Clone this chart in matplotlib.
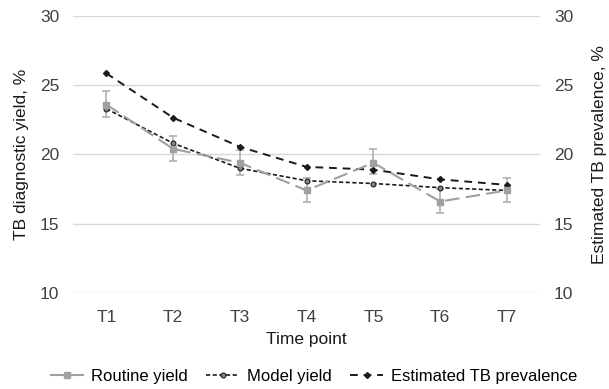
import numpy as np
import matplotlib.pyplot as plt
from matplotlib.lines import Line2D

plt.rcParams['font.family'] = ['Liberation Sans', 'DejaVu Sans']

# Datos
puntos = ['T1', 'T2', 'T3', 'T4', 'T5', 'T6', 'T7']
rutina = [23.6, 20.4, 19.4, 17.4, 19.4, 16.6, 17.4]
rutina_sup = [24.6, 21.3, 20.3, 18.3, 20.4, 17.5, 18.3]
rutina_inf = [22.7, 19.5, 18.5, 16.6, 18.6, 15.8, 16.6]
modelo = [23.3, 20.8, 19.0, 18.1, 17.9, 17.6, 17.4]
prevalencia = [25.85, 22.65, 20.55, 19.1, 18.9, 18.2, 17.8]

gris = '#a0a0a0'
negro = '#1a1a1a'

x = np.arange(len(puntos))
rutina = np.array(rutina)
err = [rutina - np.array(rutina_inf), np.array(rutina_sup) - rutina]

fig = plt.figure(figsize=(6.09, 3.89), dpi=100)
ax = fig.add_axes([0.12, 0.247, 0.767, 0.712])
ax2 = ax.twinx()

for a in (ax, ax2):
    a.set_ylim(10, 30)
    a.set_yticks([10, 15, 20, 25, 30])
    for s in a.spines.values():
        s.set_visible(False)
    a.tick_params(length=0, labelsize=12.5, colors='#404040', pad=10)
ax.tick_params(axis='x', pad=12)

ax.grid(axis='y', color='#d9d9d9', lw=1)
ax.set_axisbelow(True)
ax.set_xlim(-0.5, 6.5)
ax.set_xticks(x)
ax.set_xticklabels(puntos)

estilo_r = dict(color=gris, ls=(0, (7, 3)), lw=1.5, marker='s', ms=4.5)
estilo_m = dict(color=negro, ls=(0, (2.5, 1.5)), lw=1.2, marker='o', ms=3.5,
                mfc='#888888', mec=negro, mew=0.8)
estilo_p = dict(color=negro, ls=(0, (4, 3)), lw=1.4, marker='D', ms=3,
                mfc=negro, mec=negro)

ax.errorbar(x, rutina, yerr=err, ecolor='#b0b0b0', elinewidth=1.2,
            capsize=3, capthick=1.2, **estilo_r)
ax.plot(x, modelo, **estilo_m)
ax.plot(x, prevalencia, **estilo_p)

ax.set_ylabel('TB diagnostic yield, %', fontsize=12.5, color='#1a1a1a', labelpad=8)
ax2.set_ylabel('Estimated TB prevalence, %', fontsize=12.5, color='#1a1a1a', labelpad=13)
ax.set_xlabel('Time point', fontsize=12.5, color='#1a1a1a', labelpad=5)

handles = [Line2D([], [], label='Routine yield', **estilo_r),
           Line2D([], [], label='Model yield', **estilo_m),
           Line2D([], [], label='Estimated TB prevalence', **estilo_p)]
fig.legend(handles=handles, loc='center', bbox_to_anchor=(0.515, 0.032),
           ncol=3, frameon=False, fontsize=12, handlelength=2.0,
           columnspacing=1.1, handletextpad=0.45)

fig.savefig('out.png', dpi=100)
